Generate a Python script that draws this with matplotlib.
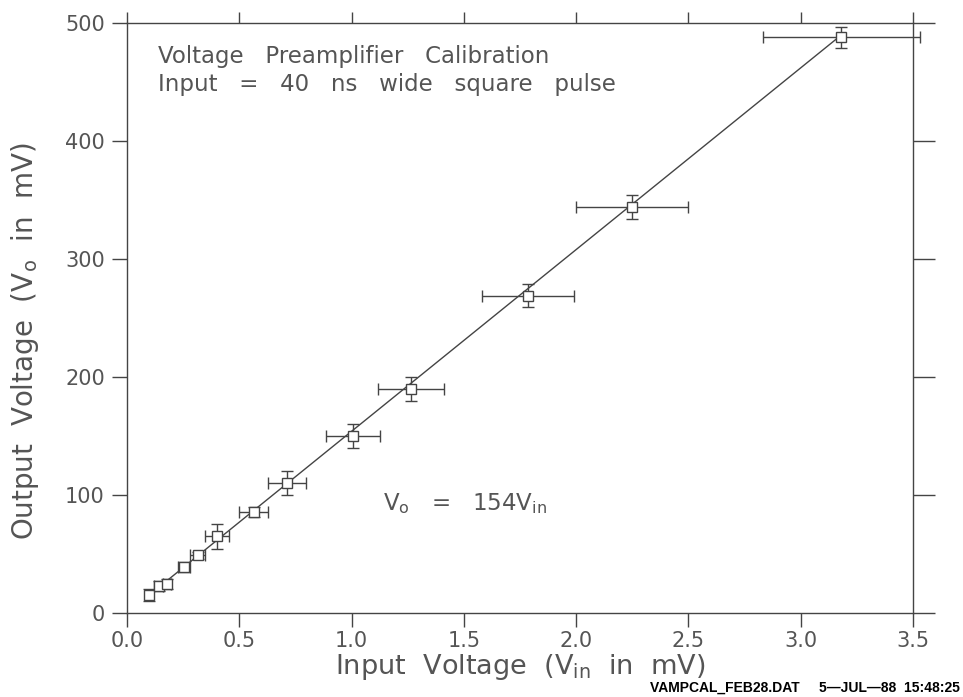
import numpy as np
import matplotlib.pyplot as plt

plt.rcParams['font.family'] = ['DejaVu Sans']
plt.rcParams['mathtext.default'] = 'regular'

# calibration points: input pulse height (mV) vs preamp output (mV)
v_in = [0.10, 0.142, 0.178, 0.254, 0.315, 0.40, 0.565, 0.714, 1.005, 1.265, 1.786, 2.25, 3.18]
v_out = [15, 23, 24.5, 39, 49, 65, 85.5, 110, 150, 190, 269, 344, 488]
v_in_err = [0.015, 0.02, 0.02, 0.027, 0.033, 0.053, 0.065, 0.085, 0.12, 0.146, 0.205, 0.25, 0.35]
v_out_err = [5, 4, 4, 4, 3, 10.5, 4, 10, 10, 10, 10, 10, 9]
gain = 154

x_ticks = [0.0, 0.5, 1.0, 1.5, 2.0, 2.5, 3.0, 3.5]
y_ticks = [0, 100, 200, 300, 400, 500]

ink = '#444444'
txt = '#555555'

fig = plt.figure(figsize=(9.63, 6.97), dpi=100)
ax = fig.add_axes([0.1319, 0.1205, 0.8162, 0.8465])

fit_x = np.array([v_in[0], v_in[-1]])
ax.plot(fit_x, gain * fit_x, color=ink, lw=1.0)
ax.errorbar(v_in, v_out, xerr=v_in_err, yerr=v_out_err, fmt='s', ms=7,
            mfc='white', mec=ink, mew=1.0, ecolor=ink, elinewidth=1.0,
            capsize=4, capthick=1.0, clip_on=False, zorder=3)

ax.set_xlim(0, 3.5)
ax.set_ylim(0, 500)
ax.set_xticks(x_ticks)
ax.set_yticks(y_ticks)
ax.set_xticklabels([f'{t:.1f}' for t in x_ticks])
for s in ax.spines.values():
    s.set_color(ink)
    s.set_linewidth(1.0)
ax.tick_params(direction='out', width=1.0, color=ink, labelcolor=txt,
               labelsize=15, top=True, right=True,
               labeltop=False, labelright=False)
ax.tick_params(axis='x', length=10, pad=3)
ax.tick_params(axis='y', length=11, pad=5)
# longer outer ticks on the right, shorter ones on top
for t in ax.yaxis.get_major_ticks():
    t.tick2line.set_markersize(16)
for t in ax.xaxis.get_major_ticks():
    t.tick2line.set_markersize(8)

ax.set_xlabel('Input  Voltage  (V$_{in}$  in  mV)', fontsize=19.5, color=txt)
ax.xaxis.set_label_coords(0.5, -0.066)
ax.set_ylabel('Output  Voltage  (V$_{o}$  in  mV)', fontsize=20, color=txt)
ax.yaxis.set_label_coords(-0.11, 0.46)

ax.text(0.039, 0.962, 'Voltage   Preamplifier   Calibration', transform=ax.transAxes,
        fontsize=16.5, color=txt, va='top')
ax.text(0.039, 0.915, 'Input   =   40   ns   wide   square   pulse', transform=ax.transAxes,
        fontsize=16.5, color=txt, va='top')
ax.text(1.14, 93, 'V$_{o}$   =   154V$_{in}$', fontsize=16.5, color=txt, va='center')

fig.text(0.997, 0.008, 'VAMPCAL_FEB28.DAT     5\u2014JUL\u201488  15:48:25',
         fontsize=10, fontweight='bold', color='black', family='Liberation Sans',
         ha='right')

fig.savefig('out.png', dpi=100, facecolor='white')
